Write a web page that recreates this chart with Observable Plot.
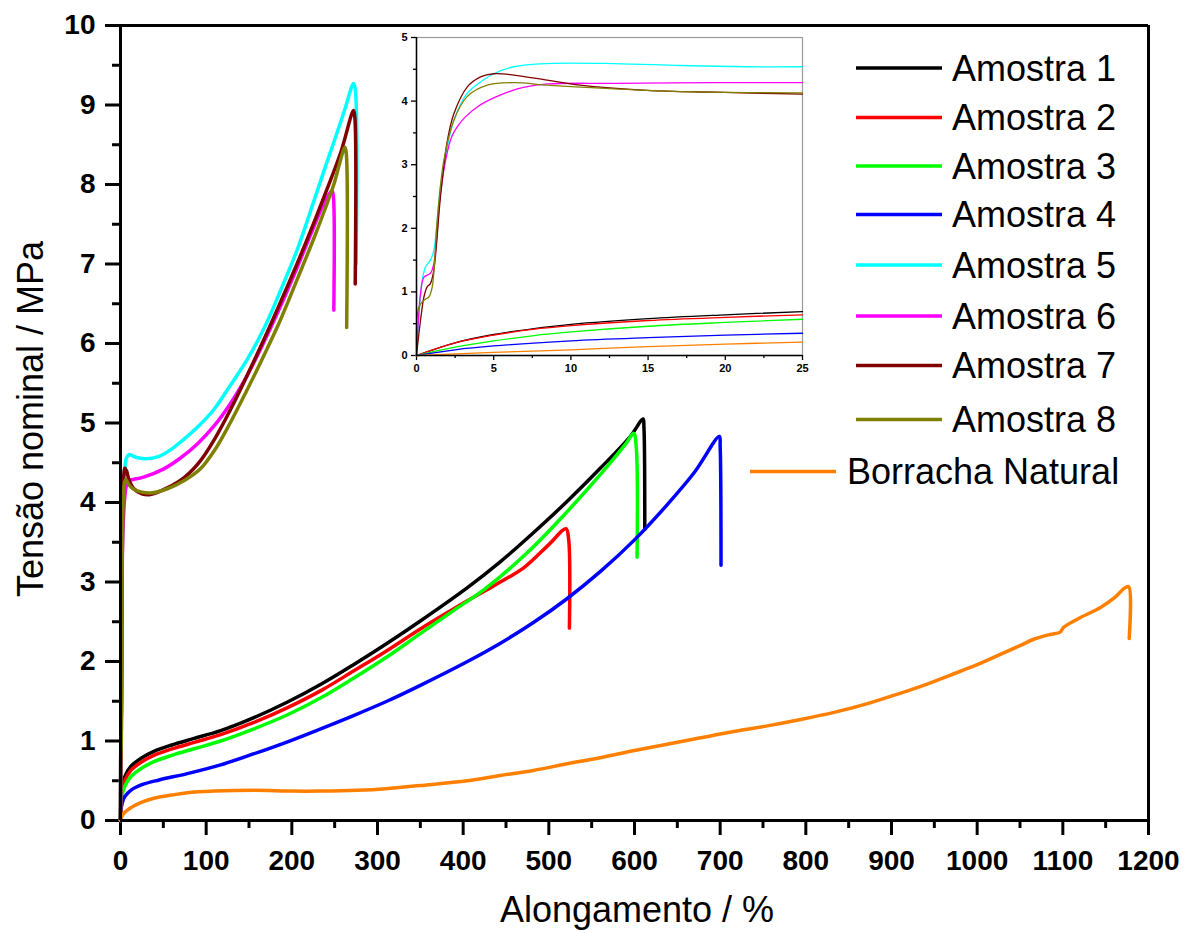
<!DOCTYPE html>
<html>
<head>
<meta charset="utf-8">
<script src="https://cdn.jsdelivr.net/npm/d3@7"></script>
<script src="https://cdn.jsdelivr.net/npm/@observablehq/plot@0.6"></script>
<style>
  html, body { margin: 0; padding: 0; background: #fff; }
  #wrap { position: relative; width: 1197px; height: 933px; font-family: Arial, "Liberation Sans", sans-serif; }
  #wrap svg { position: absolute; overflow: visible; }
</style>
</head>
<body>
<div id="wrap"></div>
<script>
// ---------- data (x = Alongamento %, y = Tensão nominal MPa) ----------
const seriesNames = ["Amostra 1","Amostra 2","Amostra 3","Amostra 4","Amostra 5","Amostra 6","Amostra 7","Amostra 8","Borracha Natural"];
const seriesColors = ["#000000","#ff0000","#00ff00","#0000ff","#00ffff","#ff00ff","#800000","#808000","#ff8000"];

const amostra1 = [[0,0],[0.5,0.25],[2,0.42],[5,0.55],[12,0.68],[25,0.79],[39,0.87],[60,0.95],[85,1.03],[117,1.13],[155,1.29],[195,1.49],[235,1.72],[272,1.96],[310,2.22],[350,2.51],[405,2.93],[445,3.27],[482,3.62],[520,4.0],[560,4.43],[595,4.83],[610,5.05],[611,4.95],[612,3.66]];
const amostra2 = [[0,0],[0.5,0.22],[2,0.38],[5,0.5],[12,0.63],[25,0.74],[39,0.82],[60,0.9],[85,0.98],[117,1.08],[155,1.23],[195,1.42],[235,1.64],[272,1.88],[310,2.13],[350,2.41],[390,2.67],[424,2.88],[450,3.04],[471,3.18],[500,3.47],[520,3.67],[523,3.55],[524,2.42]];
const amostra3 = [[0,0],[0.5,0.18],[2,0.32],[5,0.43],[12,0.55],[25,0.66],[39,0.74],[60,0.82],[85,0.9],[117,1.0],[155,1.15],[195,1.33],[235,1.55],[272,1.79],[310,2.05],[350,2.35],[390,2.65],[424,2.9],[475,3.37],[521,3.88],[560,4.35],[590,4.74],[599,4.87],[602,4.7],[603,3.31]];
const amostra4 = [[0,0],[0.5,0.12],[2,0.22],[5,0.3],[12,0.38],[25,0.45],[45,0.51],[78,0.59],[117,0.7],[156,0.84],[195,0.99],[233,1.15],[272,1.32],[311,1.5],[350,1.7],[405,2.0],[445,2.24],[482,2.49],[520,2.78],[560,3.13],[600,3.53],[638,3.97],[670,4.38],[699,4.83],[700,4.7],[701,3.21]];
const amostra5 = [[0,0],[0.5,1.2],[1,1.5],[1.5,2.6],[2,3.3],[3,4.05],[4,4.3],[5,4.43],[7,4.56],[10,4.6],[18,4.57],[30,4.55],[45,4.58],[58,4.66],[70,4.76],[90,4.95],[109,5.17],[128,5.47],[148,5.8],[168,6.2],[187,6.67],[207,7.2],[226,7.8],[240,8.25],[249,8.53],[262,8.95],[272,9.27],[274,9.2],[275,7.0]];
const amostra6 = [[0,0],[0.3,1.0],[0.5,1.23],[1,1.3],[1.5,2.5],[2,3.17],[3,3.7],[5,4.07],[7,4.22],[10,4.28],[15,4.29],[27,4.32],[50,4.42],[70,4.56],[90,4.74],[109,4.96],[128,5.24],[148,5.6],[163,5.92],[186,6.45],[206,6.95],[222,7.37],[237,7.75],[247,7.92],[248.5,7.85],[249,6.42]];
const amostra7 = [[0,0],[0.3,0.55],[0.7,1.08],[1,1.15],[1.5,2.45],[2,3.38],[3,4.15],[4,4.36],[5,4.43],[7,4.4],[10,4.28],[15,4.18],[25,4.11],[35,4.1],[54,4.18],[75,4.32],[93,4.52],[110,4.8],[128,5.16],[147,5.58],[167,6.04],[186,6.5],[206,7.0],[222,7.42],[237,7.83],[257,8.4],[272,8.93],[273.5,8.85],[274,6.75]];
const amostra8 = [[0,0],[0.15,0.76],[0.5,0.87],[0.8,0.92],[1,1.08],[1.35,2.1],[1.8,3.07],[2.4,3.7],[3.3,4.07],[4.6,4.25],[6.3,4.29],[10,4.22],[15,4.17],[25,4.13],[35,4.12],[54,4.17],[75,4.28],[93,4.42],[110,4.66],[128,5.0],[147,5.4],[167,5.84],[186,6.28],[206,6.8],[226,7.33],[238,7.67],[249,8.0],[262,8.47],[263.5,8.4],[264,6.2]];
const borracha = [[0,0],[3,0.08],[12,0.16],[25,0.23],[39,0.28],[60,0.32],[78,0.35],[110,0.37],[156,0.38],[200,0.37],[233,0.37],[276,0.38],[310,0.4],[350,0.44],[405,0.5],[440,0.56],[482,0.63],[520,0.71],[560,0.79],[600,0.88],[638,0.96],[677,1.04],[716,1.12],[755,1.19],[794,1.27],[833,1.36],[872,1.47],[910,1.6],[940,1.71],[969,1.83],[1000,1.96],[1027,2.09],[1050,2.2],[1066,2.28],[1085,2.34],[1097,2.37],[1101,2.43],[1120,2.55],[1144,2.68],[1160,2.8],[1173,2.93],[1177,2.94],[1177.5,2.29]];

// inset (0–25 %)
const inset1 = [[0,0],[2.5,0.2],[5,0.33],[7.5,0.42],[10,0.49],[15,0.58],[20,0.64],[25,0.69]];
const inset2 = [[0,0],[2.5,0.2],[5,0.32],[7.5,0.41],[10,0.47],[15,0.55],[20,0.6],[25,0.64]];
const inset3 = [[0,0],[2.5,0.13],[5,0.23],[7.5,0.31],[10,0.37],[15,0.46],[20,0.52],[25,0.57]];
const inset4 = [[0,0],[2.5,0.09],[5,0.15],[10,0.23],[15,0.28],[20,0.32],[25,0.35]];
const inset5 = [[0,0],[0.37,1.18],[0.58,1.39],[0.9,1.5],[1.12,1.65],[1.55,2.65],[2.0,3.28],[2.42,3.7],[3.28,4.12],[4.15,4.3],[5.0,4.43],[6.3,4.54],[8.47,4.59],[12.8,4.59],[17.1,4.56],[21.4,4.54],[25,4.54]];
const inset6 = [[0,0],[0.26,0.97],[0.48,1.23],[0.9,1.29],[1.12,1.44],[1.55,2.54],[2.0,3.2],[2.3,3.45],[2.7,3.62],[3.2,3.76],[4,3.92],[5,4.05],[6,4.15],[7,4.22],[8.5,4.27],[12.8,4.28],[19.3,4.29],[25,4.29]];
const inset7 = [[0,0],[0.26,0.55],[0.48,0.92],[0.69,1.08],[0.9,1.13],[1.12,1.34],[1.55,2.49],[2.0,3.38],[2.42,3.8],[3.28,4.22],[4.15,4.38],[5.0,4.43],[6.3,4.41],[8.47,4.33],[10.6,4.25],[14.9,4.17],[19.3,4.14],[25,4.11]];
const inset8 = [[0,0],[0.15,0.76],[0.48,0.87],[0.8,0.92],[1.02,1.08],[1.34,2.12],[1.77,3.07],[2.42,3.7],[3.28,4.07],[4.58,4.25],[6.3,4.29],[8.47,4.25],[10.6,4.22],[14.9,4.17],[19.3,4.14],[25,4.13]];
const insetB = [[0,0],[5,0.05],[10,0.09],[15,0.14],[20,0.18],[25,0.21]];

const xTicks = [0,100,200,300,400,500,600,700,800,900,1000,1100,1200];
const xMinor = [50,150,250,350,450,550,650,750,850,950,1050,1150];
const yTicks = [0,1,2,3,4,5,6,7,8,9,10];
const yMinor = [0.5,1.5,2.5,3.5,4.5,5.5,6.5,7.5,8.5,9.5];
const insetXTicks = [0,5,10,15,20,25];
const insetXMinor = [2.5,7.5,12.5,17.5,22.5];
const insetYTicks = [0,1,2,3,4,5];
const insetYMinor = [0.5,1.5,2.5,3.5,4.5];

const xTitle = "Alongamento / %";
const yTitle = "Tensão nominal / MPa";

// ---------- build tables ----------
const mainSets = [amostra1,amostra2,amostra3,amostra4,amostra5,amostra6,amostra7,amostra8,borracha];
const insetSets = [inset1,inset2,inset3,inset4,inset5,inset6,inset7,inset8,insetB];
const toRows = sets => sets.flatMap((arr, i) => arr.map(([x, y]) => ({x, y, s: seriesNames[i]})));
const mainRows = toRows(mainSets);
const insetRows = toRows(insetSets);

const FONT = 'Arial, "Liberation Sans", sans-serif';
const wrap = document.getElementById("wrap");

// ---------- main chart ----------
const main = Plot.plot({
  width: 1197, height: 933,
  marginLeft: 120, marginRight: 49, marginTop: 25, marginBottom: 113,
  x: {domain: [0, 1200], label: null},
  y: {domain: [0, 10], label: null},
  color: {domain: seriesNames, range: seriesColors},
  style: {fontFamily: FONT, fontSize: "28px", color: "#000", background: "transparent"},
  marks: [
    Plot.axisX(xTicks, {tickSize: 15, tickPadding: 15, strokeWidth: 3, fontSize: 28, fontWeight: "bold", label: null, tickFormat: d => String(d)}),
    Plot.axisX(xMinor, {tickSize: 8, strokeWidth: 3, label: null, tickFormat: () => ""}),
    Plot.axisY(yTicks, {tickSize: 15, tickPadding: 10, strokeWidth: 3, fontSize: 28, fontWeight: "bold", label: null, tickFormat: d => String(d)}),
    Plot.axisY(yMinor, {tickSize: 8, strokeWidth: 3, label: null, tickFormat: () => ""}),
    Plot.line(mainRows, {x: "x", y: "y", z: "s", stroke: "s", strokeWidth: 3.5, curve: "catmull-rom", strokeLinejoin: "round", strokeLinecap: "round"}),
    Plot.ruleY([0], {strokeWidth: 3}),
    Plot.ruleX([0], {strokeWidth: 3}),
    Plot.ruleY([10], {strokeWidth: 3}),
    Plot.ruleX([1200], {strokeWidth: 3})
  ]
});
main.style.left = "0px"; main.style.top = "0px";
wrap.appendChild(main);

const svg = d3.select(main);
svg.append("text")
  .attr("x", 637).attr("y", 922)
  .attr("text-anchor", "middle")
  .attr("font-family", FONT).attr("font-size", 36).attr("fill", "#000")
  .text(xTitle);
svg.append("text")
  .attr("transform", "translate(43,419) rotate(-90)")
  .attr("text-anchor", "middle")
  .attr("font-family", FONT).attr("font-size", 36).attr("fill", "#000")
  .text(yTitle);

// legend
const legendY = [68, 117.5, 166, 214.5, 265, 316, 365.5, 419.5, 471.5];
const lg = svg.append("g").attr("font-family", FONT).attr("font-size", 36).attr("text-anchor", "start");
seriesNames.forEach((name, i) => {
  const isLast = i === seriesNames.length - 1;
  const x0 = isLast ? 750 : 856, x1 = isLast ? 836 : 942, tx = isLast ? 847 : 952;
  lg.append("line").attr("x1", x0).attr("x2", x1).attr("y1", legendY[i]).attr("y2", legendY[i])
    .attr("stroke", seriesColors[i]).attr("stroke-width", 3.5);
  lg.append("text").attr("x", tx).attr("y", legendY[i] + 12.9).attr("fill", "#000")
    .attr("text-anchor", "start").text(name);
});

// ---------- inset ----------
const inset = Plot.plot({
  width: 430, height: 365,
  marginLeft: 36, marginRight: 8, marginTop: 17, marginBottom: 30,
  x: {domain: [0, 25], label: null},
  y: {domain: [0, 5], label: null},
  color: {domain: seriesNames, range: seriesColors},
  style: {fontFamily: FONT, fontSize: "11px", fontWeight: "bold", color: "#000", background: "transparent"},
  marks: [
    Plot.frame({stroke: "#999", strokeWidth: 1.2}),
    Plot.axisX(insetXTicks, {tickSize: 5, tickPadding: 4, strokeWidth: 1.3, fontSize: 11, fontWeight: "bold", label: null, tickFormat: d => String(d)}),
    Plot.axisX(insetXMinor, {tickSize: 3, strokeWidth: 1.3, label: null, tickFormat: () => ""}),
    Plot.axisY(insetYTicks, {tickSize: 5, tickPadding: 4, strokeWidth: 1.3, fontSize: 11, fontWeight: "bold", label: null, tickFormat: d => String(d)}),
    Plot.axisY(insetYMinor, {tickSize: 3, strokeWidth: 1.3, label: null, tickFormat: () => ""}),
    Plot.line(insetRows, {x: "x", y: "y", z: "s", stroke: "s", strokeWidth: 1.3, curve: "catmull-rom"}),
    Plot.ruleY([0], {strokeWidth: 1.5}),
    Plot.ruleX([0], {strokeWidth: 1.5})
  ]
});
inset.style.left = "380px"; inset.style.top = "20px";
wrap.appendChild(inset);
</script>
</body>
</html>
